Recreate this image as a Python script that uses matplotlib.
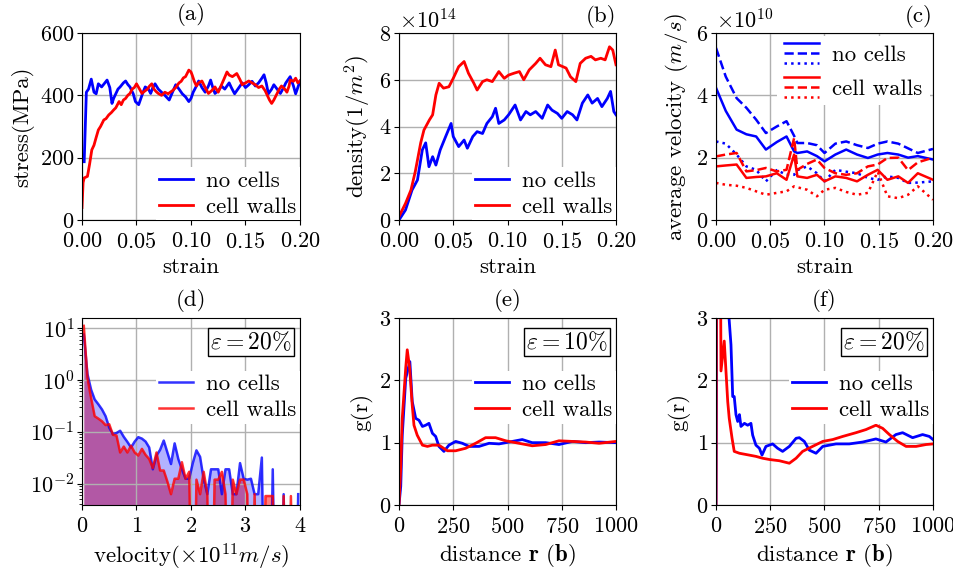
import numpy as np
import matplotlib
matplotlib.use('Agg')
import matplotlib.pyplot as plt
from matplotlib.legend_handler import HandlerBase
from matplotlib.lines import Line2D

plt.rcParams['font.family'] = 'cmr10'
plt.rcParams['mathtext.fontset'] = 'cm'
plt.rcParams['axes.formatter.use_mathtext'] = True
plt.rcParams['font.size'] = 16.5
plt.rcParams['axes.unicode_minus'] = False

BLUE = '#0000ff'
RED = '#ff0000'
FS_TICK = 16
FS_TXT = 16.5

# (a) stress-strain
a_nc_x = [0.002, 0.004, 0.006, 0.0085, 0.011, 0.013, 0.015, 0.018, 0.021, 0.023, 0.0255, 0.0275,
          0.029, 0.031, 0.033, 0.035, 0.038, 0.04, 0.042, 0.044, 0.047, 0.049, 0.052, 0.054, 0.056,
          0.058, 0.061, 0.063, 0.065, 0.067, 0.07, 0.073, 0.076, 0.08, 0.083, 0.086, 0.089, 0.092,
          0.095, 0.098, 0.1, 0.102, 0.105, 0.107, 0.11, 0.113, 0.116, 0.118, 0.12, 0.122, 0.125,
          0.128, 0.131, 0.135, 0.137, 0.14, 0.143, 0.147, 0.15, 0.153, 0.156, 0.159, 0.162, 0.165,
          0.167, 0.169, 0.171, 0.174, 0.176, 0.179, 0.182, 0.185, 0.187, 0.189, 0.191, 0.194, 0.196,
          0.198, 0.2]
a_nc_y = [187, 410, 420, 452, 410, 405, 437, 427, 440, 449, 425, 374,
          390, 405, 420, 427, 440, 446, 435, 427, 405, 380, 370, 390, 410,
          427, 420, 406, 425, 437, 420, 410, 400, 385, 410, 434, 420, 405,
          395, 380, 390, 410, 430, 446, 425, 410, 430, 449, 425, 406, 415,
          430, 420, 440, 425, 405, 420, 440, 425, 434, 445, 430, 440, 455,
          466, 440, 405, 420, 434, 420, 406, 425, 440, 450, 460, 430, 405,
          425, 446]
a_cw_x = [0.0, 0.001, 0.002, 0.005, 0.007, 0.009, 0.011, 0.013, 0.015, 0.017, 0.02, 0.022, 0.0245,
          0.027, 0.029, 0.031, 0.034, 0.036, 0.038, 0.04, 0.042, 0.044, 0.046, 0.048, 0.05, 0.052,
          0.055, 0.057, 0.06, 0.062, 0.064, 0.066, 0.068, 0.07, 0.073, 0.076, 0.079, 0.083, 0.086,
          0.089, 0.091, 0.093, 0.095, 0.098, 0.1, 0.101, 0.103, 0.105, 0.107, 0.11, 0.113, 0.116,
          0.119, 0.122, 0.125, 0.128, 0.13, 0.133, 0.135, 0.138, 0.14, 0.142, 0.145, 0.147, 0.15,
          0.153, 0.156, 0.159, 0.162, 0.165, 0.168, 0.17, 0.172, 0.174, 0.176, 0.179, 0.181, 0.183,
          0.186, 0.188, 0.19, 0.191, 0.194, 0.196, 0.198, 0.2]
a_cw_y = [40, 120, 135, 140, 180, 225, 240, 265, 289, 300, 321, 325, 337,
          345, 353, 360, 380, 370, 385, 390, 400, 406, 420, 425, 437, 425,
          406, 412, 420, 430, 437, 420, 412, 406, 400, 410, 405, 415, 425,
          440, 445, 456, 460, 481, 475, 466, 445, 430, 440, 446, 425, 406,
          415, 427, 410, 434, 450, 475, 465, 460, 465, 470, 450, 434, 440,
          446, 440, 434, 425, 430, 415, 400, 385, 374, 385, 406, 420, 430,
          420, 410, 430, 449, 445, 455, 440, 446]

# (b) dislocation density, units of 1e14 1/m^2
b_nc_x = [0.0, 0.006, 0.012, 0.017, 0.0215, 0.0246, 0.0276, 0.031, 0.034, 0.038, 0.043, 0.048,
          0.05, 0.055, 0.06, 0.063, 0.068, 0.072, 0.077, 0.081, 0.086, 0.089, 0.092, 0.097, 0.101,
          0.107, 0.112, 0.117, 0.121, 0.126, 0.132, 0.137, 0.141, 0.146, 0.15, 0.155, 0.16, 0.164,
          0.169, 0.174, 0.178, 0.183, 0.187, 0.192, 0.195, 0.198, 0.2]
b_nc_y = [0.0, 0.43, 1.28, 1.71, 3.0, 3.3, 2.28, 2.71, 2.35, 3.0, 3.57, 4.13,
          3.57, 3.14, 3.42, 3.07, 3.57, 3.78, 3.7, 4.13, 4.42, 4.78, 4.13, 4.28, 4.5,
          4.92, 4.28, 4.64, 4.5, 4.64, 4.35, 4.92, 4.7, 4.56, 4.35, 4.64, 4.5, 4.28,
          5.0, 5.35, 5.0, 5.2, 4.85, 5.2, 5.5, 4.64, 4.5]
b_cw_x = [0.0, 0.006, 0.011, 0.015, 0.02, 0.023, 0.028, 0.031, 0.034, 0.037, 0.041, 0.046, 0.05,
          0.055, 0.06, 0.064, 0.069, 0.072, 0.077, 0.081, 0.086, 0.092, 0.097, 0.101, 0.106, 0.111,
          0.115, 0.12, 0.126, 0.13, 0.135, 0.14, 0.144, 0.147, 0.154, 0.158, 0.163, 0.167, 0.172,
          0.177, 0.181, 0.186, 0.19, 0.194, 0.197, 0.2]
b_cw_y = [0.15, 0.71, 1.28, 2.07, 3.3, 3.85, 4.28, 4.5, 5.35, 5.85, 5.64, 5.7, 6.06,
          6.56, 6.78, 6.28, 5.85, 5.56, 5.92, 6.0, 5.92, 6.35, 6.06, 6.2, 6.28, 6.35,
          6.0, 6.42, 6.7, 6.92, 6.64, 6.56, 7.27, 6.64, 6.5, 6.13, 5.92, 6.7, 6.92,
          7.0, 6.85, 6.92, 6.85, 7.41, 7.27, 6.64]

# (c) average velocity, units of 1e10 m/s
c_x = [0.0, 0.009, 0.019, 0.028, 0.037, 0.046, 0.056, 0.065, 0.072, 0.075, 0.084, 0.093,
       0.1, 0.11, 0.12, 0.13, 0.14, 0.149, 0.158, 0.168, 0.177, 0.186, 0.2]
c_nc_solid = [4.24, 3.5, 2.9, 2.75, 2.68, 2.26, 2.5, 2.68, 2.2, 2.15, 2.2, 2.05,
              1.88, 2.1, 2.26, 2.1, 1.99, 2.1, 2.15, 2.1, 2.0, 2.05, 1.94]
c_nc_dash = [5.52, 4.6, 3.91, 3.6, 3.22, 2.79, 3.0, 3.17, 2.7, 2.47, 2.47, 2.4,
             2.15, 2.45, 2.52, 2.4, 2.31, 2.45, 2.52, 2.45, 2.3, 2.15, 2.28]
c_nc_dot = [2.52, 2.45, 2.1, 1.72, 1.61, 1.24, 1.6, 1.45, 1.45, 1.6, 1.72, 1.5,
            1.24, 1.61, 1.55, 1.5, 1.35, 1.29, 1.4, 1.35, 1.19, 1.2, 1.24]
c_cw_solid = [1.72, 1.75, 1.78, 1.35, 1.38, 1.4, 1.5, 1.29, 2.1, 1.4, 1.35, 1.45,
              1.24, 1.4, 1.35, 1.24, 1.45, 1.61, 1.29, 1.4, 1.19, 1.5, 1.29]
c_cw_dash = [2.04, 2.1, 2.15, 1.56, 1.6, 1.67, 1.56, 1.61, 2.63, 1.61, 1.8, 1.94,
             1.67, 1.5, 1.45, 1.5, 1.72, 1.78, 1.99, 2.0, 1.6, 1.85, 2.0]
c_cw_dot = [1.19, 1.13, 1.1, 1.03, 0.92, 0.81, 0.87, 0.92, 1.08, 1.05, 0.97, 0.76,
            0.97, 1.03, 0.9, 0.81, 0.87, 1.55, 0.76, 0.7, 0.81, 1.08, 0.65]

# (d) velocity distribution at 20% strain
d_v = [0.033, 0.1, 0.167, 0.233, 0.3, 0.367, 0.433, 0.5, 0.567, 0.633, 0.7, 0.767, 0.833, 0.9,
       0.967, 1.033, 1.1, 1.167, 1.233, 1.3, 1.367, 1.433, 1.5, 1.567, 1.633, 1.7, 1.767, 1.833,
       1.9, 1.967, 2.033, 2.1, 2.167, 2.233, 2.3, 2.367, 2.433, 2.5, 2.567, 2.633, 2.7, 2.767,
       2.833, 2.9, 2.967, 3.033, 3.1, 3.167, 3.233, 3.3, 3.367, 3.433, 3.5, 3.567, 3.633, 3.7,
       3.767, 3.833, 3.9, 3.967]
d_nc = [7.5, 1.3, 0.65, 0.42, 0.34, 0.27, 0.2, 0.12, 0.09, 0.095, 0.105, 0.08, 0.064, 0.05,
        0.065, 0.079, 0.074, 0.065, 0.05, 0.019, 0.035, 0.045, 0.068, 0.04, 0.024, 0.06, 0.03, 0.019,
        0.0125, 0.0125, 0.025, 0.044, 0.033, 0.012, 0.0063, 0.019, 0.019, 0.019, 0.0063, 0.019, 0.019, 0.0063,
        0.0063, 0.025, 0.0125, 0.012, 0.0125, 0.0063, 0.0063, 0.032, 0, 0, 0.019, 0, 0, 0.0063,
        0, 0, 0, 0.0063]
d_cw = [11.0, 1.1, 0.45, 0.2, 0.18, 0.16, 0.135, 0.14, 0.088, 0.085, 0.04, 0.052, 0.04, 0.054,
        0.04, 0.035, 0.047, 0.036, 0.03, 0.02, 0.04, 0.018, 0.018, 0.011, 0.0063, 0.0125, 0.0125, 0.026,
        0.0125, 0.017, 0, 0.012, 0.0063, 0.017, 0.0063, 0, 0.012, 0.012, 0.017, 0.0063, 0, 0.012,
        0.0063, 0.012, 0.012, 0.0063, 0, 0.0063, 0, 0, 0.0058, 0.0058, 0.0058, 0, 0, 0.0058,
        0, 0.0058, 0, 0]

# (e) pair correlation at 10% strain
e_nc_r = [0, 8, 15, 31, 50, 61, 77, 92, 108, 123, 138, 154, 169, 184, 207, 230, 261, 292, 323,
          369, 415, 461, 507, 568, 614, 676, 737, 799, 860, 922, 1000]
e_nc_g = [0, 0.3, 1.12, 2.03, 2.3, 1.66, 1.39, 1.36, 1.26, 1.28, 1.31, 1.15, 1.1, 0.94, 0.86,
          0.96, 1.02, 0.99, 0.94, 0.94, 0.99, 0.98, 1.01, 1.05, 1.0, 1.0, 0.97, 1.02, 1.0, 1.01, 1.0]
e_cw_r = [0, 8, 15, 31, 38, 49, 61, 69, 84, 108, 131, 154, 184, 223, 261, 307, 353, 399, 445,
          492, 553, 614, 676, 737, 799, 860, 922, 1000]
e_cw_g = [0, 0.6, 1.39, 2.2, 2.49, 2.2, 1.6, 1.28, 1.12, 0.96, 0.94, 0.96, 0.96, 0.87, 0.87,
          0.91, 0.99, 1.08, 1.08, 1.03, 0.99, 0.95, 0.97, 1.03, 1.02, 1.01, 0.99, 1.02]

# (f) pair correlation at 20% strain
f_nc_r = [0, 10, 40, 58, 69, 77, 84, 92, 100, 108, 115, 131, 146, 161, 169, 184, 200, 212, 230,
          261, 284, 307, 338, 369, 384, 407, 430, 461, 492, 553, 614, 676, 737, 783, 829, 860,
          906, 952, 983, 1000]
f_nc_g = [0, 10, 6, 3.1, 2.57, 1.74, 1.74, 1.45, 1.34, 1.45, 1.26, 1.31, 1.28, 1.31, 1.12,
          0.96, 0.91, 0.8, 0.94, 0.98, 0.91, 0.86, 0.94, 1.07, 1.08, 1.02, 0.88, 0.83, 0.94,
          0.98, 0.98, 1.01, 1.06, 1.01, 1.13, 1.16, 1.08, 1.13, 1.1, 1.05]
f_cw_r = [0, 5, 15, 23, 38, 54, 61, 74, 84, 108, 154, 184, 215, 246, 292, 338, 369, 399, 445,
          492, 538, 584, 645, 691, 737, 768, 799, 837, 876, 922, 968, 1000]
f_cw_g = [0, 8, 8, 2.15, 2.63, 1.66, 1.39, 1.07, 0.86, 0.83, 0.8, 0.78, 0.75, 0.73, 0.71,
          0.67, 0.75, 0.86, 0.94, 1.02, 1.05, 1.1, 1.16, 1.21, 1.28, 1.23, 1.13, 1.02, 0.94,
          0.94, 0.97, 0.98]

W, H = 954, 576
fig = plt.figure(figsize=(W / 100, H / 100), dpi=100)


def make_ax(left, top, right, bottom):
    return fig.add_axes([left / W, 1 - bottom / H, (right - left) / W, (bottom - top) / H])


cols = [(82, 300), (399, 616), (716, 933)]
rows = [(33, 220), (318, 505)]
axs = [[make_ax(c[0], r[0], c[1], r[1]) for c in cols] for r in rows]

for row in axs:
    for ax in row:
        ax.grid(True, color='#b0b0b0', lw=1)
        ax.tick_params(labelsize=FS_TICK)
        ax.tick_params(axis='x', pad=5)
        ax.tick_params(axis='y', pad=2)
        ax.yaxis.get_offset_text().set_fontsize(FS_TICK)

leg_kw = dict(frameon=True, facecolor='white', edgecolor='none', framealpha=1,
              fontsize=FS_TXT, handlelength=1.45, handletextpad=0.6, borderpad=0.15,
              borderaxespad=0.0, labelspacing=0.26, fancybox=False)
LEG_Y = 0.718


class StackedLines(HandlerBase):
    # draws the lines of a tuple handle one above the other
    def create_artists(self, legend, orig_handle, xdescent, ydescent, width, height,
                       fontsize, trans):
        out = []
        n = len(orig_handle)
        for i, h in enumerate(orig_handle):
            y = height - ydescent - i * height / (n - 1)
            ln = Line2D([-xdescent, width - xdescent], [y, y], color=h.get_color(),
                        ls=h.get_linestyle(), lw=h.get_linewidth(), transform=trans)
            out.append(ln)
        return out


def eps_box(ax, txt):
    ax.text(0.962, 0.935, txt, transform=ax.transAxes, ha='right', va='top',
            fontsize=17, bbox=dict(boxstyle='square,pad=0.1', fc='white', ec='black', lw=1))


# (a)
ax = axs[0][0]
ax.plot(a_nc_x, a_nc_y, color=BLUE, lw=2, label='no cells')
ax.plot(a_cw_x, a_cw_y, color=RED, lw=2, label='cell walls')
ax.set_xlim(0, 0.2)
ax.set_ylim(0, 600)
ax.set_yticks([0, 200, 400, 600])
ax.set_xticks([0, 0.05, 0.1, 0.15, 0.2])
ax.set_xlabel('strain', fontsize=FS_TXT)
ax.set_ylabel('stress(MPa)', fontsize=FS_TXT)
ax.set_title('(a)', fontsize=FS_TXT, pad=9)
ax.legend(loc='lower right', **leg_kw)

# (b)
ax = axs[0][1]
ax.plot(b_nc_x, np.array(b_nc_y) * 1e14, color=BLUE, lw=2, label='no cells')
ax.plot(b_cw_x, np.array(b_cw_y) * 1e14, color=RED, lw=2, label='cell walls')
ax.set_xlim(0, 0.2)
ax.set_ylim(0, 8e14)
ax.set_xticks([0, 0.05, 0.1, 0.15, 0.2])
ax.set_xlabel('strain', fontsize=FS_TXT)
ax.set_ylabel('density$(1/m^2)$', fontsize=FS_TXT)
ax.set_title('(b)', loc='right', fontsize=FS_TXT, pad=8)
ax.legend(loc='lower right', **leg_kw)

# (c)
ax = axs[0][2]
e10 = 1e10
l1, = ax.plot(c_x, np.array(c_nc_solid) * e10, color=BLUE, lw=1.8, ls='-')
l2, = ax.plot(c_x, np.array(c_nc_dash) * e10, color=BLUE, lw=1.8, ls='--')
l3, = ax.plot(c_x, np.array(c_nc_dot) * e10, color=BLUE, lw=1.8, ls=':')
l4, = ax.plot(c_x, np.array(c_cw_solid) * e10, color=RED, lw=1.8, ls='-')
l5, = ax.plot(c_x, np.array(c_cw_dash) * e10, color=RED, lw=1.8, ls='--')
l6, = ax.plot(c_x, np.array(c_cw_dot) * e10, color=RED, lw=1.8, ls=':')
ax.set_xlim(0, 0.2)
ax.set_ylim(0, 6e10)
ax.set_yticks([0, 2e10, 4e10, 6e10])
ax.set_xticks([0, 0.05, 0.1, 0.15, 0.2])
ax.set_xlabel('strain', fontsize=FS_TXT)
ax.set_ylabel('average velocity $(m/s)$', fontsize=FS_TXT)
ax.set_title('(c)', loc='right', fontsize=FS_TXT, pad=8)
lk = dict(leg_kw)
lk.update(labelspacing=0.5, handlelength=1.5, handleheight=0.97, borderpad=0.3,
          borderaxespad=0.15)
ax.legend([(l1, l2, l3), (l4, l5, l6)], ['no cells', 'cell walls'], loc='upper right',
          handler_map={tuple: StackedLines()}, **lk)

# (d)
ax = axs[1][0]
ax.fill_between(d_v, 1e-6, np.maximum(d_cw, 1e-6), color=RED, alpha=0.5, lw=0)
ax.fill_between(d_v, 1e-6, np.maximum(d_nc, 1e-6), color=BLUE, alpha=0.3, lw=0)
ax.plot(d_v, np.maximum(d_nc, 1e-6), color=BLUE, lw=1.8, alpha=0.8, label='no cells')
ax.plot(d_v, np.maximum(d_cw, 1e-6), color=RED, lw=1.8, alpha=0.8, label='cell walls')
ax.set_yscale('log')
ax.set_xlim(0, 4)
ax.set_ylim(3.9e-3, 15.6)
ax.set_xticks([0, 1, 2, 3, 4])
ax.set_xlabel(r'velocity$(\times10^{11}m/s)$', fontsize=FS_TXT)
ax.set_title('(d)', fontsize=FS_TXT, pad=9)
ax.legend(loc='upper right', bbox_to_anchor=(1.0, LEG_Y), **leg_kw)
eps_box(ax, r'$\varepsilon=20\%$')

# (e)
ax = axs[1][1]
ax.plot(e_nc_r, e_nc_g, color=BLUE, lw=2, label='no cells')
ax.plot(e_cw_r, e_cw_g, color=RED, lw=2, label='cell walls')
ax.set_xlim(0, 1000)
ax.set_ylim(0, 3)
ax.set_xticks([0, 250, 500, 750, 1000])
ax.set_yticks([0, 1, 2, 3])
ax.set_xlabel(r'distance $\mathbf{r}$ $(\mathbf{b})$', fontsize=FS_TXT)
ax.set_ylabel('g(r)', fontsize=FS_TXT)
ax.set_title('(e)', fontsize=FS_TXT, pad=9)
ax.legend(loc='upper right', bbox_to_anchor=(1.0, LEG_Y), **leg_kw)
eps_box(ax, r'$\varepsilon=10\%$')

# (f)
ax = axs[1][2]
ax.plot(f_nc_r, f_nc_g, color=BLUE, lw=2, label='no cells')
ax.plot(f_cw_r, f_cw_g, color=RED, lw=2, label='cell walls')
ax.set_xlim(0, 1000)
ax.set_ylim(0, 3)
ax.set_xticks([0, 250, 500, 750, 1000])
ax.set_yticks([0, 1, 2, 3])
ax.set_xlabel(r'distance $\mathbf{r}$ $(\mathbf{b})$', fontsize=FS_TXT)
ax.set_ylabel('g(r)', fontsize=FS_TXT)
ax.set_title('(f)', fontsize=FS_TXT, pad=9)
ax.legend(loc='upper right', bbox_to_anchor=(1.0, LEG_Y), **leg_kw)
eps_box(ax, r'$\varepsilon=20\%$')

fig.savefig('out.png', dpi=100)
